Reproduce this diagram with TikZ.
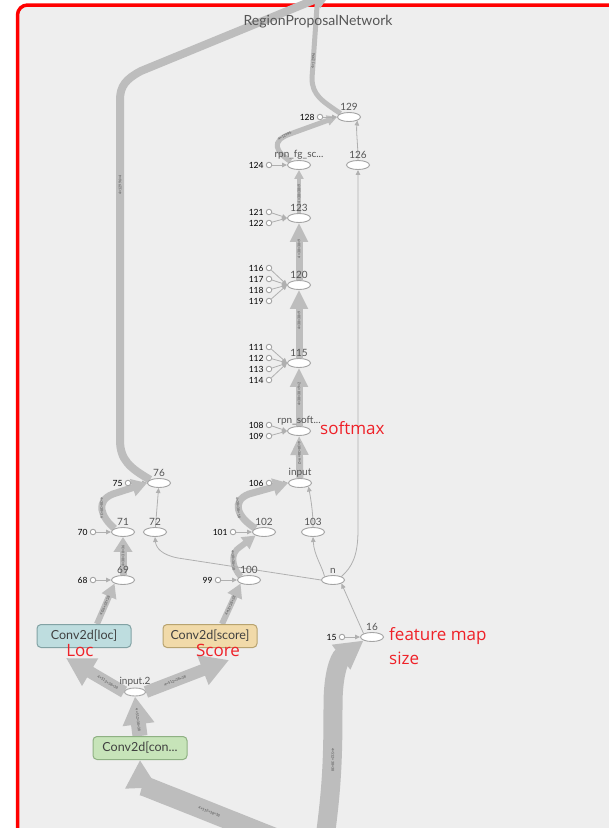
\documentclass[tikz,border=0pt]{standalone}
\usepackage{fontspec}
\setmainfont{Lato}
\newfontfamily\annfont{Open Sans}
\usetikzlibrary{arrows.meta,shapes.geometric}
\definecolor{bgc}{HTML}{EEEEEE}
\definecolor{edgec}{HTML}{BDBDBD}
\definecolor{thinc}{HTML}{B0B0B0}
\definecolor{nodec}{HTML}{A4A4A4}
\definecolor{labc}{HTML}{555555}
\definecolor{annc}{HTML}{EE2128}
\definecolor{framec}{HTML}{FF0000}
\definecolor{locfill}{HTML}{BEDDDF}
\definecolor{locline}{HTML}{82A2A4}
\definecolor{scorefill}{HTML}{F1DAA9}
\definecolor{scoreline}{HTML}{B8A36F}
\definecolor{convfill}{HTML}{C7E4B9}
\definecolor{convline}{HTML}{8FB183}
\pgfdeclarelayer{backlayer}
\pgfdeclarelayer{edgelayer}
\pgfsetlayers{backlayer,edgelayer,main}
\begin{document}
\begin{tikzpicture}[x=1pt,y=-1pt,
  op/.style={ellipse, draw=nodec, fill=white, line width=0.9pt, minimum width=23pt, minimum height=9pt, inner sep=0pt},
  smallop/.style={ellipse, draw=nodec, fill=white, line width=0.9pt, minimum width=21pt, minimum height=8pt, inner sep=0pt},
  constn/.style={circle, draw=nodec, fill=white, line width=0.9pt, minimum size=5.5pt, inner sep=0pt},
  lab/.style={font=\fontsize{10}{11}\selectfont, text=labc, inner sep=1pt},
  clab/.style={font=\fontsize{8.5}{9}\selectfont, text=black, inner sep=0pt, anchor=east},
  elab/.style={font=\fontsize{3.6}{4}\selectfont, text=black!70, inner sep=0.5pt, sloped},
  thinarr/.style={draw=thinc, line width=0.8pt, -{Triangle[length=5pt,width=4.5pt]}},
  fat/.style n args={3}{draw=edgec, line width=#1, -{Triangle[length=#2,width=#3]}},
  plainfat/.style={draw=edgec, line width=#1},
  box/.style={rectangle, rounded corners=4pt, line width=1pt, minimum width=94pt, minimum height=23pt, inner sep=2pt, font=\fontsize{12.5}{13}\selectfont, text=black!75},
  annot/.style={font=\annfont\fontsize{17}{19}\selectfont, text=annc, inner sep=0pt, anchor=west, align=left}
]
\useasboundingbox (0,0) rectangle (609,828);
\begin{pgfonlayer}{backlayer}
\fill[white] (0,0) rectangle (609,828);
\draw[framec, line width=3.5pt, fill=bgc, rounded corners=10pt] (17.5,5) rectangle (660,880);
\end{pgfonlayer}

\node[font=\fontsize{14}{15}\selectfont, text=labc] (title) at (318,22) {RegionProposalNetwork};

% ---- op nodes ----
\node[op, label={[lab]above:129}] (n129) at (349,117) {};
\node[op, label={[lab]above:rpn\_fg\_sc...}] (nfg) at (299,165) {};
\node[op, label={[lab]above:126}] (n126) at (358,165) {};
\node[op, label={[lab]above:123}] (n123) at (299,218) {};
\node[op, label={[lab]above:120}] (n120) at (299,285) {};
\node[op, label={[lab]above:115}] (n115) at (299,363) {};
\node[op, label={[lab]above:rpn\_soft...}] (nsoft) at (299,431) {};
\node[op, label={[lab]above:input}] (ninput) at (300,483) {};
\node[op, label={[lab]above:76}] (n76) at (159,483) {};
\node[op, label={[lab]above:71}] (n71) at (123,532) {};
\node[op, label={[lab]above:72}] (n72) at (155,532) {};
\node[op, label={[lab]above:102}] (n102) at (264,532) {};
\node[op, label={[lab]above:103}] (n103) at (313,532) {};
\node[op, label={[lab]above:69}] (n69) at (123,580) {};
\node[op, label={[lab]above:100}] (n100) at (249,580) {};
\node[op, label={[lab]above:n}] (nn) at (333,580) {};
\node[op, label={[lab]above:16}] (n16) at (372,637) {};
\node[smallop, label={[lab]above:input.2}] (ninput2) at (135,692) {};

% ---- constant nodes ----
\node[constn] (c128) at (320,117) {}; \node[clab] (l128) at ([xshift=-2pt]c128.west) {128};
\node[constn] (c124) at (269,165) {}; \node[clab] (l124) at ([xshift=-2pt]c124.west) {124};
\node[constn] (c121) at (269,212) {}; \node[clab] (l121) at ([xshift=-2pt]c121.west) {121};
\node[constn] (c122) at (269,223) {}; \node[clab] (l122) at ([xshift=-2pt]c122.west) {122};
\node[constn] (c116) at (269,268) {}; \node[clab] (l116) at ([xshift=-2pt]c116.west) {116};
\node[constn] (c117) at (269,279) {}; \node[clab] (l117) at ([xshift=-2pt]c117.west) {117};
\node[constn] (c118) at (269,290) {}; \node[clab] (l118) at ([xshift=-2pt]c118.west) {118};
\node[constn] (c119) at (269,301) {}; \node[clab] (l119) at ([xshift=-2pt]c119.west) {119};
\node[constn] (c111) at (269,347) {}; \node[clab] (l111) at ([xshift=-2pt]c111.west) {111};
\node[constn] (c112) at (269,358) {}; \node[clab] (l112) at ([xshift=-2pt]c112.west) {112};
\node[constn] (c113) at (269,369) {}; \node[clab] (l113) at ([xshift=-2pt]c113.west) {113};
\node[constn] (c114) at (269,380) {}; \node[clab] (l114) at ([xshift=-2pt]c114.west) {114};
\node[constn] (c108) at (269,425) {}; \node[clab] (l108) at ([xshift=-2pt]c108.west) {108};
\node[constn] (c109) at (269,436) {}; \node[clab] (l109) at ([xshift=-2pt]c109.west) {109};
\node[constn] (c106) at (269,483) {}; \node[clab] (l106) at ([xshift=-2pt]c106.west) {106};
\node[constn] (c75) at (128,483) {}; \node[clab] (l75) at ([xshift=-2pt]c75.west) {75};
\node[constn] (c70) at (93,532) {}; \node[clab] (l70) at ([xshift=-2pt]c70.west) {70};
\node[constn] (c101) at (233,532) {}; \node[clab] (l101) at ([xshift=-2pt]c101.west) {101};
\node[constn] (c68) at (93,580) {}; \node[clab] (l68) at ([xshift=-2pt]c68.west) {68};
\node[constn] (c99) at (218,580) {}; \node[clab] (l99) at ([xshift=-2pt]c99.west) {99};
\node[constn] (c15) at (342,637) {}; \node[clab] (l15) at ([xshift=-2pt]c15.west) {15};

% ---- boxes ----
\node[box, draw=locline, fill=locfill] (nloc) at (84,636) {Conv2d[loc]};
\node[box, draw=scoreline, fill=scorefill] (nscore) at (210,636) {Conv2d[score]};
\node[box, draw=convline, fill=convfill] (nconv) at (140,748) {Conv2d[con...};

% ---- annotations ----
\node[annot] (asoft) at (320,428) {softmax};
\node[annot] (afeat) at (389,636) {feature map};
\node[annot] (asize) at (389,658) {size};
\node[annot, anchor=center] (aloc) at (80,651) {Loc};
\node[annot, anchor=center] (ascore) at (218,650) {Score};

% ---- free ends ----
\coordinate (topout) at (331,-7);
\coordinate (topout2) at (318,-8);
\coordinate (locin) at (66,658);
\coordinate (scorein) at (229,660);
\coordinate (srcA) at (305,850);
\coordinate (srcB) at (323,852);

\begin{pgfonlayer}{edgelayer}
% outputs at the top
\draw[fat={8pt}{16pt}{19pt}] (n76.160) .. controls (130,468) and (120,460) .. (120,440)
   -- node[elab, pos=0.75] {4×12996×4} (120,100) .. controls (120,86) and (126,79) .. (141,71) -- (topout);
\draw[plainfat=5pt] (n129.north west) .. controls (322,101) and (312,95) .. (312,78)
   -- node[elab, pos=0.2] {4×12996} (topout2);
% rpn_fg -> 129
\draw[fat={5pt}{10pt}{10pt}] (nfg.north west) .. controls (276,152) and (270,141) .. node[elab, pos=0.9] {4×12996} (290,134) -- (n129.west);
\draw[thinarr] (c128) -- (n129.west);
\draw[thinarr] (n126.north) .. controls (358,145) and (356,131) .. (n129.south east);
% chain
\draw[fat={4.5pt}{9pt}{9pt}] (n123) -- node[elab, pos=0.45] {4×38×38×9} (nfg);
\draw[fat={7pt}{19pt}{17pt}] (n120) -- node[elab, pos=0.55] {4×38×38×9} (n123);
\draw[fat={7pt}{19pt}{17pt}] (n115) -- node[elab, pos=0.55] {4×38×38×9} (n120);
\draw[fat={7pt}{19pt}{17pt}] (nsoft) -- node[elab, pos=0.55] {4×38×38×9×2} (n115);
\draw[fat={7pt}{19pt}{17pt}] (ninput) -- node[elab, pos=0.6] {4×38×38×9×2} (nsoft);
% constants into ops
\draw[thinarr] (c124) -- (nfg);
\draw[thinarr] (c121) -- (n123.west);
\draw[thinarr] (c122) -- (n123.west);
\draw[thinarr] (c116) -- (n120.west);
\draw[thinarr] (c117) -- (n120.west);
\draw[thinarr] (c118) -- (n120.west);
\draw[thinarr] (c119) -- (n120.west);
\draw[thinarr] (c111) -- (n115.west);
\draw[thinarr] (c112) -- (n115.west);
\draw[thinarr] (c113) -- (n115.west);
\draw[thinarr] (c114) -- (n115.west);
\draw[thinarr] (c108) -- (nsoft.west);
\draw[thinarr] (c109) -- (nsoft.west);
\draw[thinarr] (c106) -- (ninput);
\draw[thinarr] (c75) -- (n76);
\draw[thinarr] (c70) -- (n71);
\draw[thinarr] (c101) -- (n102);
\draw[thinarr] (c68) -- (n69);
\draw[thinarr] (c99) -- (n100);
\draw[thinarr] (c15) -- (n16);
% score branch
\draw[fat={7pt}{15pt}{17pt}] (n102.north west) .. controls (237,517) and (231,501) .. node[elab, pos=0.55] {4×38×38×18} (249,494) -- (ninput.west);
\draw[fat={6pt}{13pt}{14pt}] (n100.north west) .. controls (232,567) and (230,553) .. node[elab, pos=0.5] {4×38×38×18} (240,547) -- (n102.south west);
\draw[thinarr] (n103.north) .. controls (313,512) and (311,500) .. (ninput.south east);
\draw[thinarr] (nn.north west) .. controls (322,566) and (314,555) .. (n103.south);
% loc branch
\draw[fat={7pt}{15pt}{17pt}] (n71.north west) .. controls (101,517) and (95,501) .. node[elab, pos=0.55] {4×38×38×36} (113,494) -- (n76.west);
\draw[fat={7pt}{15pt}{18pt}] (n69) -- node[elab, pos=0.5] {4×38×38×36} (n71);
\draw[thinarr] (n72) -- (n76);
% n node edges
\draw[thinarr] (nn.west) -- (178,558) .. controls (162,555) and (156,548) .. (n72.south);
\draw[thinarr] (nn.north east) .. controls (352,567) and (358,556) .. (358,530) -- (n126.south);
\draw[thinarr] (n16.north west) -- (nn.south east);
% boxes to ops
\draw[fat={6pt}{14pt}{15pt}] ([xshift=13pt]nloc.north) -- node[elab, pos=0.45] {4×36×38×38} (n69.south west);
\draw[fat={6pt}{14pt}{15pt}] ([xshift=12pt]nscore.north) -- node[elab, pos=0.45] {4×18×38×38} (n100.south west);
\draw[fat={12pt}{28pt}{30pt}] (ninput2.west) -- node[elab, pos=0.28] {4×512×38×38} (locin);
\draw[fat={12pt}{28pt}{30pt}] (ninput2.east) -- node[elab, pos=0.35] {4×512×38×38} (scorein);
\draw[fat={15pt}{28pt}{30pt}] (nconv.north) -- node[elab, pos=0.4] {4×512×38×38} (ninput2.south);
% big inputs from below
\draw[fat={20pt}{28pt}{30pt}] (srcA) -- node[elab, pos=0.72] {4×512×38×38} (172,797) .. controls (146,787) and (141,784) .. (nconv.south);
\draw[fat={19pt}{28pt}{29pt}] (srcB) .. controls (332,790) and (333,760) .. (333,705)
   .. controls (333,672) and (340,658) .. (n16.south west);
\node[elab, rotate=-90] (lbig) at (333,760) {4×512×38×38};
\end{pgfonlayer}
\end{tikzpicture}
\end{document}
